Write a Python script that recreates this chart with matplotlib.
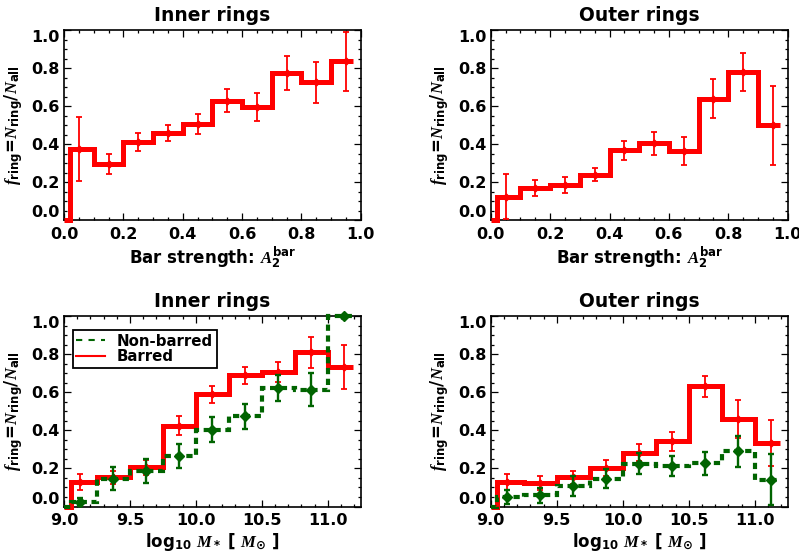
import matplotlib
matplotlib.use('Agg')
import matplotlib.pyplot as plt
from matplotlib.lines import Line2D
from matplotlib.ticker import MultipleLocator, FormatStrFormatter

# bar strength bins (top panels)
a2_edges = [0.0, 0.02, 0.1, 0.2, 0.3, 0.4, 0.5, 0.6, 0.7, 0.8, 0.9, 0.975]
a2_centers = [0.05, 0.15, 0.25, 0.35, 0.45, 0.55, 0.65, 0.75, 0.85, 0.95]
inner_a2 = [0.375, 0.298, 0.412, 0.459, 0.508, 0.630, 0.595, 0.776, 0.726, 0.836]
inner_a2_err = [0.170, 0.053, 0.049, 0.042, 0.053, 0.060, 0.074, 0.090, 0.106, 0.153]
outer_a2 = [0.125, 0.170, 0.186, 0.240, 0.368, 0.406, 0.366, 0.640, 0.780, 0.500]
outer_a2_err = [0.120, 0.042, 0.040, 0.035, 0.051, 0.060, 0.073, 0.104, 0.100, 0.207]

# stellar mass bins (bottom panels)
mass_edges = [9.0, 9.05, 9.25, 9.5, 9.75, 10.0, 10.25, 10.5, 10.75, 11.0, 11.19]
mass_centers = [9.125, 9.375, 9.625, 9.875, 10.125, 10.375, 10.625, 10.875, 11.125]
inner_bar = [0.129, 0.154, 0.206, 0.424, 0.590, 0.689, 0.708, 0.810, 0.734]
inner_bar_err = [0.040, 0.035, 0.040, 0.050, 0.045, 0.046, 0.053, 0.080, 0.115]
inner_nobar = [0.025, 0.146, 0.189, 0.266, 0.404, 0.475, 0.624, 0.615, 1.0]
inner_nobar_err = [0.020, 0.060, 0.063, 0.063, 0.066, 0.066, 0.070, 0.086, 0.0]
outer_bar = [0.129, 0.124, 0.154, 0.203, 0.282, 0.343, 0.631, 0.460, 0.334]
outer_bar_err = [0.040, 0.035, 0.034, 0.042, 0.044, 0.049, 0.056, 0.100, 0.120]
outer_nobar = [0.050, 0.059, 0.106, 0.145, 0.224, 0.213, 0.227, 0.290, 0.141]
outer_nobar_err = [0.037, 0.040, 0.053, 0.050, 0.055, 0.053, 0.059, 0.082, 0.135]

RED = '#ff0000'
GREEN = '#006400'

plt.rcParams.update({
    'font.family': 'DejaVu Sans',
    'font.weight': 'bold',
    'axes.labelweight': 'bold',
    'axes.titleweight': 'bold',
    'mathtext.fontset': 'custom',
    'mathtext.rm': 'DejaVu Sans:bold',
    'mathtext.bf': 'DejaVu Sans:bold',
    'mathtext.it': 'Liberation Serif:italic',
})

fig = plt.figure(figsize=(7.99, 5.57), dpi=100)
W, H = 799.0, 557.0


def make_axes(left, top, right, bottom):
    return fig.add_axes([left / W, 1 - bottom / H, (right - left) / W, (bottom - top) / H])


def style(ax, xlim, xmaj, xmin, xlabel, title):
    ax.set_xlim(*xlim)
    ax.set_ylim(0, 1)
    ax.xaxis.set_major_locator(MultipleLocator(xmaj))
    ax.xaxis.set_minor_locator(MultipleLocator(xmin))
    ax.yaxis.set_major_locator(MultipleLocator(0.2))
    ax.yaxis.set_minor_locator(MultipleLocator(0.05))
    ax.xaxis.set_major_formatter(FormatStrFormatter('%.1f'))
    ax.yaxis.set_major_formatter(FormatStrFormatter('%.1f'))
    ax.tick_params(which='both', direction='in', top=True, right=True, width=0.9,
                   labelsize=11.5)
    ax.tick_params(which='major', length=5)
    ax.tick_params(which='minor', length=2.5)
    ax.tick_params(axis='x', pad=5)
    ax.tick_params(axis='y', pad=3)
    for sp in ax.spines.values():
        sp.set_linewidth(1.2)
    ax.set_title(title, fontsize=13.5, fontweight='bold', pad=7)
    ax.set_xlabel(xlabel, fontsize=12, labelpad=2)
    ax.set_ylabel(r'$f_{\rm ring}$=$N_{\rm ring}/N_{\rm all}$', fontsize=12, labelpad=5)


def red_series(ax, edges, centers, vals, errs):
    ax.stairs([0] + vals, edges, color=RED, lw=3.6, baseline=None, clip_on=False, zorder=3)
    ax.errorbar(centers, vals, yerr=errs, fmt='D', color=RED, ms=3.5, elinewidth=1.3,
                capsize=2.5, capthick=1.3, zorder=4, clip_on=False)


def green_series(ax, edges, centers, vals, errs):
    ax.stairs([0] + vals, edges, color=GREEN, lw=3.0, ls=(0, (1.5, 1.1)), baseline=None,
              clip_on=False, zorder=5)
    ax.errorbar(centers, vals, yerr=errs, fmt='D', color=GREEN, ms=5, elinewidth=1.7,
                capsize=2.5, capthick=1.7, zorder=6, clip_on=False)


a2_label = r'Bar strength: $A_2^{\rm bar}$'
mass_label = r'log$_{10}$ $M_*$ [ $M_{\odot}$ ]'

ax1 = make_axes(64, 30.3, 360.7, 220.3)
red_series(ax1, a2_edges, a2_centers, inner_a2, inner_a2_err)
style(ax1, (0, 1), 0.2, 0.05, a2_label, 'Inner rings')

ax2 = make_axes(490.7, 30.3, 787.7, 220.3)
red_series(ax2, a2_edges, a2_centers, outer_a2, outer_a2_err)
style(ax2, (0, 1), 0.2, 0.05, a2_label, 'Outer rings')

ax3 = make_axes(64, 316.3, 360.7, 506.5)
red_series(ax3, mass_edges, mass_centers, inner_bar, inner_bar_err)
green_series(ax3, mass_edges, mass_centers, inner_nobar, inner_nobar_err)
style(ax3, (9.0, 11.25), 0.5, 0.1, mass_label, 'Inner rings')

ax4 = make_axes(490.7, 316.3, 787.7, 506.5)
red_series(ax4, mass_edges, mass_centers, outer_bar, outer_bar_err)
green_series(ax4, mass_edges, mass_centers, outer_nobar, outer_nobar_err)
style(ax4, (9.0, 11.25), 0.5, 0.1, mass_label, 'Outer rings')

handles = [Line2D([], [], color=GREEN, lw=1.5, ls=(0, (3, 3))),
           Line2D([], [], color=RED, lw=1.5)]
leg = ax3.legend(handles, ['Non-barred', 'Barred'], loc='upper left',
                 bbox_to_anchor=(0.029, 0.928), borderaxespad=0, fancybox=False,
                 framealpha=1, edgecolor='black', handlelength=1.9,
                 handletextpad=0.8, labelspacing=0.05, borderpad=0.25,
                 prop={'weight': 'bold', 'size': 10.8})
leg.get_frame().set_linewidth(1.3)
leg.set_zorder(10)

fig.canvas.draw()
for ax in (ax1, ax2, ax3, ax4):
    for lab in ax.get_xticklabels() + ax.get_yticklabels():
        lab.set_fontweight('bold')
    # keep the end labels of the y axis inside the frame
    for tick in ax.yaxis.get_major_ticks():
        loc = tick.get_loc()
        if abs(loc) < 1e-6:
            tick.label1.set_va('bottom')
        elif abs(loc - 1.0) < 1e-6:
            tick.label1.set_va('top')

fig.savefig('out.png', dpi=100)
